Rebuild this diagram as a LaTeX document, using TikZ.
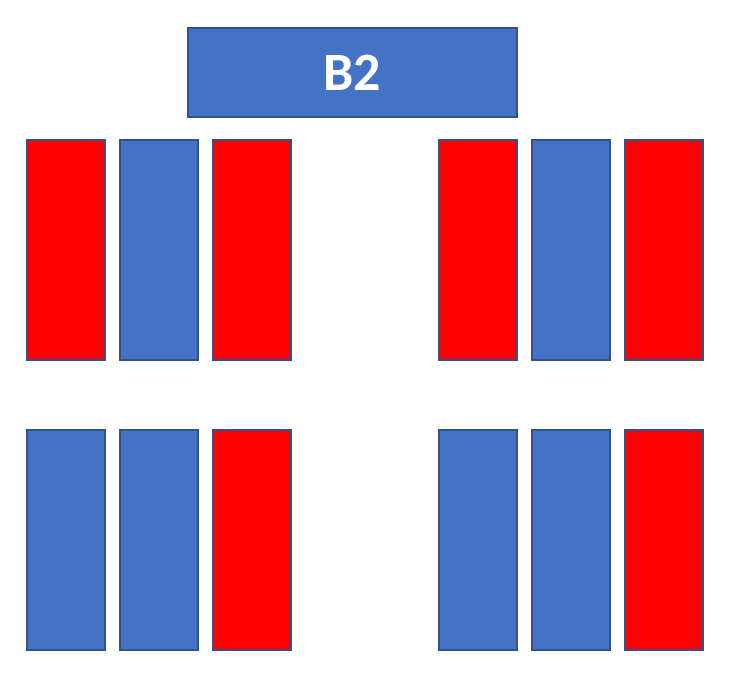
\documentclass[tikz,border=0pt]{standalone}
\usepackage{fontspec}
\setmainfont{Carlito}
\usepackage{xcolor}
\usepackage{tikz}

\definecolor{barblue}{RGB}{68,114,196}
\definecolor{baredge}{RGB}{47,82,143}
\definecolor{barred}{RGB}{255,0,0}

\begin{document}
\begin{tikzpicture}[x=1pt,y=-1pt,
  bar/.style={draw=baredge,line width=1.5pt,inner sep=0pt,outer sep=0pt,anchor=north west,minimum width=78pt,minimum height=220pt},
  bluebar/.style={bar,fill=barblue},
  redbar/.style={bar,fill=barred},
  titlebox/.style={draw=baredge,line width=1.5pt,fill=barblue,inner sep=0pt,outer sep=0pt,anchor=north west,minimum width=329pt,minimum height=89pt,text=white,font=\bfseries\fontsize{54}{60}\selectfont}]
\path[use as bounding box] (0,0) rectangle (739,682);
\path[fill=white,draw=none] (0,0) rectangle (739,682);
\node[titlebox] (title) at (188,28) {B2};
% upper row
\node[redbar] (ul1) at (27,140) {};
\node[bluebar] (ul2) at (120,140) {};
\node[redbar] (ul3) at (213,140) {};
\node[redbar] (ur1) at (439,140) {};
\node[bluebar] (ur2) at (532,140) {};
\node[redbar] (ur3) at (625,140) {};
% lower row
\node[bluebar] (ll1) at (27,430) {};
\node[bluebar] (ll2) at (120,430) {};
\node[redbar] (ll3) at (213,430) {};
\node[bluebar] (lr1) at (439,430) {};
\node[bluebar] (lr2) at (532,430) {};
\node[redbar] (lr3) at (625,430) {};
\end{tikzpicture}
\end{document}
